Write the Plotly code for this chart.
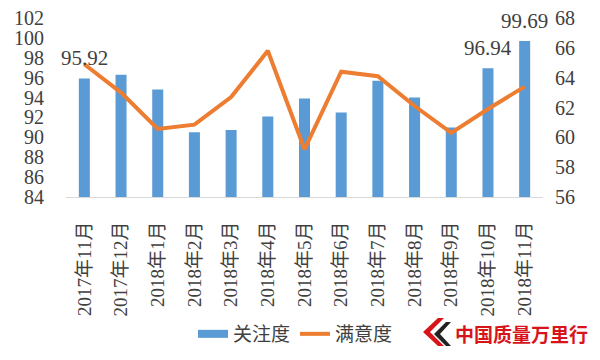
import plotly.graph_objects as go

months = ["2017年11月", "2017年12月", "2018年1月", "2018年2月", "2018年3月", "2018年4月",
          "2018年5月", "2018年6月", "2018年7月", "2018年8月", "2018年9月", "2018年10月", "2018年11月"]
attention = [95.92, 96.3, 94.8, 90.5, 90.74, 92.1, 93.9, 92.5, 95.7, 94.0, 91.0, 96.94, 99.69]
satisfaction = [64.9, 63.0, 60.56, 60.85, 62.7, 65.8, 59.2, 64.4, 64.1, 62.1, 60.3, 61.9, 63.4]
labelled = [0, 11, 12]

BLUE = "#5B9BD5"
ORANGE = "#ED7D31"
TXT = "#404040"
SERIF = "Liberation Serif, Noto Sans CJK SC, serif"

fig = go.Figure()
fig.add_trace(go.Bar(x=months, y=attention, name="关注度", marker=dict(color=BLUE, line=dict(width=0)),
                     width=0.3, yaxis="y", showlegend=False))
fig.add_trace(go.Scatter(x=months, y=satisfaction, name="满意度", mode="lines",
                         line=dict(color=ORANGE, width=4), yaxis="y2", showlegend=False))
# legend entries
fig.add_trace(go.Scatter(x=[months[0]], y=[None], name="关注度", mode="lines",
                         line=dict(color=BLUE, width=8), yaxis="y"))
fig.add_trace(go.Scatter(x=[months[0]], y=[None], name="满意度", mode="lines",
                         line=dict(color=ORANGE, width=4), yaxis="y2"))

for i in labelled:
    fig.add_annotation(x=months[i], y=attention[i], xref="x", yref="y", text=f"{attention[i]:.2f}",
                       showarrow=False, yshift=20, font=dict(family=SERIF, size=21, color=TXT))

# page coordinates -> paper coordinates (plot area spans x 66..543, y 18..197 on the page)
def px(x):
    return (x - 66) / 477
def py(y):
    return (197 - y) / 179

# logo (chevrons + text)
fig.add_shape(type="path", xref="paper", yref="paper",
              path=f"M {px(438)},{py(318)} L {px(423)},{py(332)} L {px(438)},{py(346)} L {px(444)},{py(346)} L {px(430)},{py(332)} L {px(444)},{py(318)} Z",
              fillcolor="#D7141A", line=dict(width=0))
fig.add_shape(type="path", xref="paper", yref="paper",
              path=f"M {px(446)},{py(322)} L {px(434)},{py(334)} L {px(446)},{py(346)} L {px(451)},{py(346)} L {px(440)},{py(334)} L {px(451)},{py(322)} Z",
              fillcolor="#222222", line=dict(width=0))
fig.add_annotation(x=px(453), y=py(333), xref="paper", yref="paper", xanchor="left", yanchor="middle",
                   text="<b>中国质量万里行</b>", showarrow=False,
                   font=dict(family="Noto Sans CJK SC", size=19, color="#D7141A"))

# the page body adds an 8px offset; figure sized so the page does not overflow the window
fig.update_layout(
    width=592, height=352,
    margin=dict(l=58, r=57, t=10, b=163, autoexpand=False),
    paper_bgcolor="white", plot_bgcolor="white",
    showlegend=True,
    legend=dict(orientation="h", x=px(193), y=py(334), xanchor="left", yanchor="middle",
                font=dict(family="Noto Sans CJK SC", size=19, color=TXT),
                traceorder="normal", bgcolor="rgba(0,0,0,0)"),
    xaxis=dict(tickangle=-90, showgrid=False, showline=True, linecolor="#D9D9D9", linewidth=1,
               range=[-0.5, len(months) - 0.5],
               ticks="outside", ticklen=16, tickcolor="rgba(0,0,0,0)", automargin=False,
               tickfont=dict(family=SERIF, size=19, color=TXT)),
    yaxis=dict(range=[84, 102], dtick=2, showgrid=False, zeroline=False, showline=False,
               automargin=False, ticks="outside", ticklen=17, tickcolor="rgba(0,0,0,0)",
               ticklabeloverflow="allow",
               tickfont=dict(family=SERIF, size=20, color=TXT)),
    yaxis2=dict(range=[56, 68], dtick=2, overlaying="y", side="right", showgrid=False, zeroline=False,
                showline=False, automargin=False, ticks="outside", ticklen=7, tickcolor="rgba(0,0,0,0)",
                ticklabeloverflow="allow",
                tickfont=dict(family=SERIF, size=20, color=TXT)),
)

fig.write_html("out.html")
